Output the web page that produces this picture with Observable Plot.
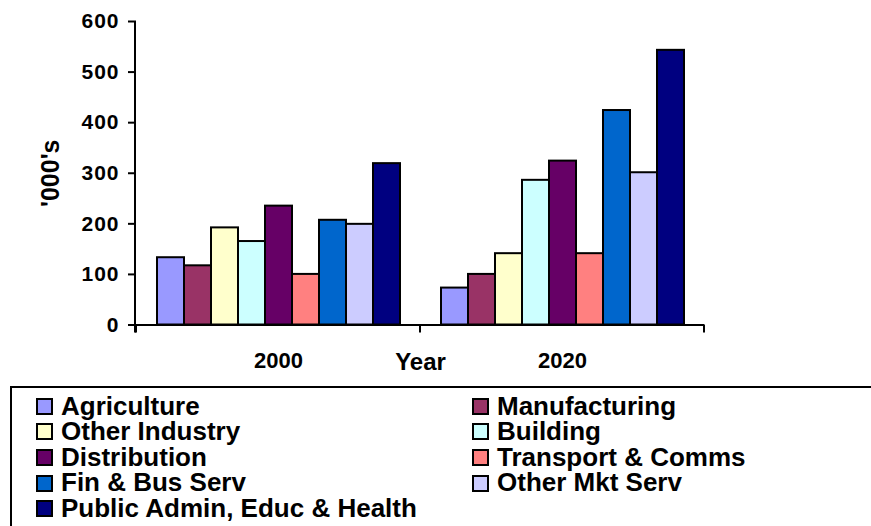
<!DOCTYPE html>
<html>
<head>
<meta charset="utf-8">
<script src="https://cdn.jsdelivr.net/npm/d3@7"></script>
<script src="https://cdn.jsdelivr.net/npm/@observablehq/plot@0.6"></script>
<style>
  html, body { margin: 0; padding: 0; background: #fff; overflow: hidden; width: 871px; height: 526px; }
  #chart svg { display: block; }
  #chart svg text { font-weight: bold; }
  .legend {
    position: absolute; left: 10px; top: 386px; width: 900px; height: 200px;
    border: 2px solid #000; box-sizing: border-box; padding: 5.5px 0 0 24px;
    font-family: "Liberation Sans", Arial, sans-serif; font-weight: bold; font-size: 26px;
    display: grid; grid-template-columns: 436px 436px; grid-auto-rows: 25.6px; line-height: 25.6px;
    color: #000;
  }
  .legend .item { display: flex; align-items: center; white-space: nowrap; height: 25.6px; }
  .legend .sw { width: 17px; height: 17px; box-sizing: border-box; border: 2px solid #000; margin-right: 8px; flex: none; }
  .legend .lab { display: block; height: 25.6px; line-height: 25.6px; overflow: visible; }
</style>
</head>
<body>
<div id="chart"></div>
<div class="legend" id="legend"></div>
<script>
const years = ["2000", "2020"];
const sectors = ["Agriculture", "Manufacturing", "Other Industry", "Building", "Distribution",
  "Transport & Comms", "Fin & Bus Serv", "Other Mkt Serv", "Public Admin, Educ & Health"];
const values2000 = [133, 117, 192, 165, 235, 100, 207, 199, 319];
const values2020 = [73, 100, 141, 286, 324, 141, 424, 301, 543];
const colors = ["#9999FF", "#993366", "#FFFFCC", "#CCFFFF", "#660066", "#FF8080", "#0066CC", "#CCCCFF", "#000080"];
const yTicks = [0, 100, 200, 300, 400, 500, 600];

const seriesByYear = {"2000": values2000, "2020": values2020};
const data = years.flatMap(yr => sectors.map((s, i) => ({year: yr, sector: s, value: seriesByYear[yr][i]})));

const plot = Plot.plot({
  width: 871, height: 386,
  marginLeft: 135, marginRight: 167, marginTop: 21, marginBottom: 61.5,
  style: {fontFamily: "'Liberation Sans', Arial, sans-serif", fontWeight: "bold", color: "#000", background: "#fff", overflow: "visible"},
  fx: {domain: years, padding: 0},
  x: {domain: sectors, paddingInner: 0, paddingOuter: 0.75, axis: null},
  y: {domain: [0, 600]},
  color: {domain: sectors, range: colors},
  marks: [
    Plot.barY(data, {fx: "year", x: "sector", y: "value", fill: "sector", stroke: "#000", strokeWidth: 2}),
    Plot.ruleY([0], {stroke: "#000", strokeWidth: 2}),
    Plot.axisY({ticks: yTicks, tickSize: 8, tickPadding: 9, tickFormat: d => String(d), fontSize: 21, fontWeight: "bold",
      strokeWidth: 2, label: "'000's", labelAnchor: "center", labelArrow: "none", labelOffset: 95}),
    Plot.axisFx({anchor: "bottom", tickSize: 0, tickPadding: 27, fontSize: 22, fontWeight: "bold",
      label: "Year", labelAnchor: "center", labelArrow: "none", labelOffset: 45})
  ]
});
document.getElementById("chart").appendChild(plot);

// axis line and category boundary ticks, positioned from the plot's own scales
const ys = plot.scale("y"), fxs = plot.scale("fx");
const svg = d3.select(plot);
const g = svg.append("g").attr("stroke", "#000").attr("stroke-width", 2);
const x0 = fxs.range[0];
g.append("line").attr("x1", x0).attr("x2", x0).attr("y1", ys.apply(600)).attr("y2", ys.apply(0) + 8);
const bounds = years.map(y => fxs.apply(y)).concat([fxs.range[1]]);
g.selectAll("line.b").data(bounds).join("line").attr("class", "b")
  .attr("x1", d => d).attr("x2", d => d).attr("y1", ys.apply(0)).attr("y2", ys.apply(0) + 8);

// widen y tick labels slightly, like the reference
const tickStrings = yTicks.map(String);
svg.selectAll("text").filter(function() { return tickStrings.includes(this.textContent); })
  .style("letter-spacing", "1px");
svg.selectAll("text").filter(function() { return this.textContent === "'000's"; }).style("font-size", "25px");
svg.selectAll("text").filter(function() { return this.textContent === "Year"; }).style("font-size", "24px");

// legend
const legend = d3.select("#legend");
sectors.forEach((s, i) => {
  const it = legend.append("div").attr("class", "item");
  it.append("span").attr("class", "sw").style("background", colors[i]);
  it.append("span").attr("class", "lab").text(s);
});
</script>
</body>
</html>
